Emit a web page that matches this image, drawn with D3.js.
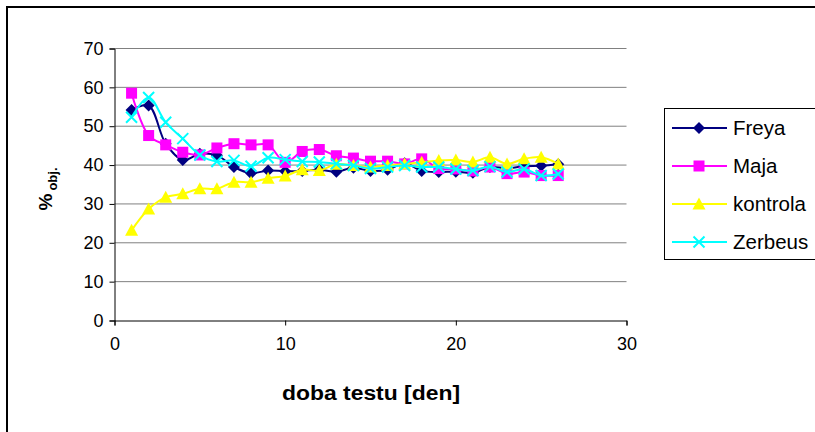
<!DOCTYPE html>
<html><head><meta charset="utf-8">
<script src="https://cdn.jsdelivr.net/npm/d3@7"></script>
<style>
html,body{margin:0;padding:0;background:#fff;}
svg{display:block;font-family:"Liberation Sans",Arial,sans-serif;}
</style></head>
<body>
<svg id="c" width="815" height="432"></svg>
<script>
const days = d3.range(1, 27);
const freya = [54.2, 55.3, 45.5, 41.3, 42.9, 42.5, 39.5, 37.9, 38.6, 38.4, 38.5, 38.8, 38.3, 39.3, 38.5, 38.8, 40.5, 38.5, 38.2, 38.3, 38.0, 39.5, 39.2, 39.7, 39.8, 40.2];
const maja = [58.5, 47.6, 45.2, 43.3, 42.6, 44.4, 45.5, 45.2, 45.2, 40.7, 43.5, 44.0, 42.4, 41.8, 41.0, 41.0, 40.3, 41.6, 39.1, 39.0, 38.5, 39.5, 37.8, 38.2, 37.3, 37.3];
const kontrola = [23.2, 28.7, 31.7, 32.6, 33.9, 33.9, 35.6, 35.6, 36.6, 37.2, 38.8, 38.6, 40.2, 39.9, 39.5, 39.9, 40.3, 40.7, 41.2, 41.3, 40.8, 42.0, 40.3, 41.6, 42.0, 40.3];
const zerbeus = [52.3, 57.4, 51.0, 46.8, 42.6, 40.9, 41.2, 39.7, 41.9, 41.4, 40.9, 40.8, 40.3, 39.9, 39.1, 39.5, 39.9, 39.5, 39.5, 39.0, 38.6, 39.6, 38.2, 39.0, 37.3, 37.7];
const seriesNames = ["Freya", "Maja", "kontrola", "Zerbeus"];
const seriesColors = ["#000080", "#FF00FF", "#FFFF00", "#00FFFF"];
const seriesShapes = ["diamond", "square", "triangle", "x"];
const xTicks = [0, 10, 20, 30];
const yTicks = [0, 10, 20, 30, 40, 50, 60, 70];

const svg = d3.select("#c");
// outer frame
svg.append("rect").attr("x", 7).attr("y", 7).attr("width", 840).attr("height", 460)
  .attr("fill", "none").attr("stroke", "#000").attr("stroke-width", 2);

const x = d3.scaleLinear().domain([0, 30]).range([114.5, 626.5]);
const y = d3.scaleLinear().domain([0, 70]).range([320.5, 48.5]);

// gridlines
svg.append("g").selectAll("line").data(yTicks.filter(d => d > 0)).join("line")
  .attr("x1", x(0)).attr("x2", x(30)).attr("y1", d => y(d)).attr("y2", d => y(d))
  .attr("stroke", "#808080").attr("stroke-width", 1);

const yAxis = svg.append("g").attr("transform", `translate(${x(0)},0)`)
  .call(d3.axisLeft(y).tickValues(yTicks).tickSize(5).tickPadding(6));
const xAxis = svg.append("g").attr("transform", `translate(0,${y(0)})`)
  .call(d3.axisBottom(x).tickValues(xTicks).tickSize(5).tickPadding(12));
[yAxis, xAxis].forEach(a => {
  a.select(".domain").attr("stroke", "#000");
  a.selectAll(".tick line").attr("stroke", "#000");
  a.selectAll("text").attr("font-size", 18).attr("fill", "#000").attr("font-family", "Liberation Sans, Arial, sans-serif");
});

// axis titles
svg.append("text").attr("x", 371).attr("y", 400).attr("text-anchor", "middle")
  .attr("font-size", 20).attr("font-weight", "bold")
  .attr("textLength", 178).attr("lengthAdjust", "spacingAndGlyphs").text("doba testu [den]");
const yt = svg.append("text").attr("transform", "translate(52,189) rotate(-90)")
  .attr("text-anchor", "middle").attr("font-size", 19).attr("font-weight", "bold");
yt.append("tspan").text("%");
yt.append("tspan").attr("font-size", 13).attr("dy", 5).attr("dx", 3).text("obj.");

const allData = [freya, maja, kontrola, zerbeus];
const line = d3.line().x((d, i) => x(days[i])).y(d => y(d)).curve(d3.curveCatmullRom.alpha(0.5));

function drawMarker(g, shape, color, cx, cy) {
  if (shape === "diamond") {
    g.append("path").attr("d", `M${cx},${cy-6}L${cx+6},${cy}L${cx},${cy+6}L${cx-6},${cy}Z`).attr("fill", color);
  } else if (shape === "square") {
    g.append("rect").attr("x", cx-5.5).attr("y", cy-5.5).attr("width", 11).attr("height", 11).attr("fill", color);
  } else if (shape === "triangle") {
    g.append("path").attr("d", `M${cx},${cy-6.5}L${cx+6.5},${cy+5.5}L${cx-6.5},${cy+5.5}Z`).attr("fill", color);
  } else {
    g.append("path").attr("d", `M${cx-5.5},${cy-5.5}L${cx+5.5},${cy+5.5}M${cx+5.5},${cy-5.5}L${cx-5.5},${cy+5.5}`)
      .attr("stroke", color).attr("stroke-width", 2).attr("fill", "none");
  }
}

allData.forEach((data, s) => {
  const g = svg.append("g");
  g.append("path").attr("d", line(data)).attr("fill", "none")
    .attr("stroke", seriesColors[s]).attr("stroke-width", 2);
  data.forEach((v, i) => drawMarker(g, seriesShapes[s], seriesColors[s], x(days[i]), y(v)));
});

// legend
svg.append("rect").attr("x", 664.5).attr("y", 108.5).attr("width", 200).attr("height", 151)
  .attr("fill", "#fff").attr("stroke", "#000").attr("stroke-width", 1);
const ly = [128, 166, 204, 242];
seriesNames.forEach((n, s) => {
  const g = svg.append("g");
  g.append("line").attr("x1", 672).attr("x2", 727).attr("y1", ly[s]).attr("y2", ly[s])
    .attr("stroke", seriesColors[s]).attr("stroke-width", 2);
  drawMarker(g, seriesShapes[s], seriesColors[s], 699, ly[s]);
  g.append("text").attr("x", 733).attr("y", ly[s] + 7).attr("font-size", 20.5).text(n);
});
</script>
</body></html>
